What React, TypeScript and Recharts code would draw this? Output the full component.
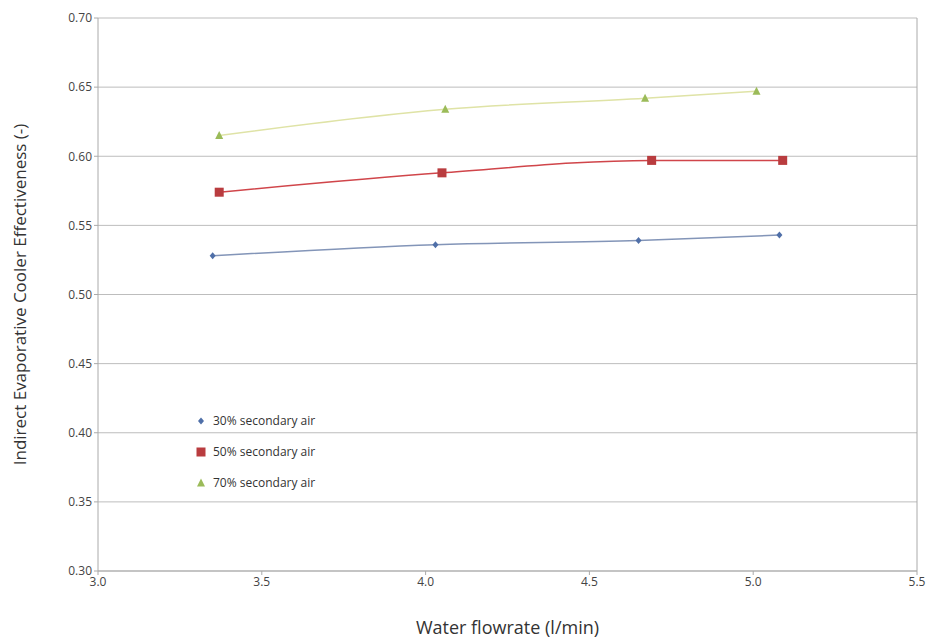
import React from "react"
import {
  LineChart,
  Line,
  XAxis,
  YAxis,
  CartesianGrid,
  ReferenceLine,
} from "recharts"

const flow30 = [3.35, 4.03, 4.65, 5.08]
const eff30 = [0.528, 0.536, 0.539, 0.543]
const flow50 = [3.37, 4.05, 4.69, 5.09]
const eff50 = [0.574, 0.588, 0.597, 0.597]
const flow70 = [3.37, 4.06, 4.67, 5.01]
const eff70 = [0.615, 0.634, 0.642, 0.647]

const xTicks = [3.0, 3.5, 4.0, 4.5, 5.0, 5.5]
const yTicks = [0.3, 0.35, 0.4, 0.45, 0.5, 0.55, 0.6, 0.65, 0.7]

const zip = (xs: number[], ys: number[]) => xs.map((x, i) => ({ x, y: ys[i] }))

const series = [
  { name: "30% secondary air", data: zip(flow30, eff30), line: "#8395b8", mark: "#4f6fa8", shape: "diamond" },
  { name: "50% secondary air", data: zip(flow50, eff50), line: "#d0454a", mark: "#b93c3f", shape: "square" },
  { name: "70% secondary air", data: zip(flow70, eff70), line: "#dfe3a6", mark: "#9bbb59", shape: "triangle" },
]

const font = "'Open Sans', 'Liberation Sans', sans-serif"

function Marker({ cx, cy, shape, color }: any) {
  if (cx == null || cy == null) return null
  if (shape === "square") {
    return <rect x={cx - 4.5} y={cy - 4.5} width={9} height={9} fill={color} />
  }
  if (shape === "triangle") {
    return <polygon points={`${cx},${cy - 4.5} ${cx + 4},${cy + 3.5} ${cx - 4},${cy + 3.5}`} fill={color} />
  }
  return <polygon points={`${cx},${cy - 3.5} ${cx + 3},${cy} ${cx},${cy + 3.5} ${cx - 3},${cy}`} fill={color} />
}

function LegendBox() {
  return (
    <div style={{ position: "absolute", left: 195, top: 405, fontFamily: font, fontSize: 12, color: "#333" }}>
      {series.map((s) => (
        <div key={s.name} style={{ display: "flex", alignItems: "center", height: 31 }}>
          <svg width={12} height={12} style={{ marginRight: 6 }}>
            <Marker cx={6} cy={6} shape={s.shape} color={s.mark} />
          </svg>
          {s.name}
        </div>
      ))}
    </div>
  )
}

export default function App() {
  return (
    <div style={{ position: "absolute", left: 0, top: 0, width: 934, height: 641, background: "#fff" }}>
      <LineChart width={934} height={641} margin={{ top: 18, right: 17, left: 0, bottom: 0 }}>
        <CartesianGrid vertical={false} stroke="#bdbdbd" />
        <XAxis
          type="number"
          dataKey="x"
          domain={[3, 5.5]}
          ticks={xTicks}
          tickFormatter={(v) => v.toFixed(1)}
          height={70}
          stroke="#aaa"
          tick={{ fontSize: 12, fill: "#444", fontFamily: font }}
          tickSize={4}
          label={{ value: "Water flowrate (l/min)", position: "insideBottom", offset: 7, fontSize: 18, fill: "#333", fontFamily: font }}
        />
        <YAxis
          type="number"
          dataKey="y"
          domain={[0.3, 0.7]}
          ticks={yTicks}
          tickFormatter={(v) => v.toFixed(2)}
          width={98}
          stroke="#aaa"
          tick={{ fontSize: 12, fill: "#444", fontFamily: font }}
          tickSize={4}
          label={{
            value: "Indirect Evaporative Cooler Effectiveness (-)",
            angle: -90,
            position: "insideLeft",
            offset: 20,
            style: { textAnchor: "middle", fontSize: 17, fill: "#333", fontFamily: font },
          }}
        />
        <ReferenceLine x={5.5} stroke="#aaa" />
        {series.map((s) => (
          <Line
            key={s.name}
            name={s.name}
            data={s.data}
            dataKey="y"
            type="monotone"
            stroke={s.line}
            strokeWidth={1.5}
            dot={(p: any) => <Marker key={p.index} cx={p.cx} cy={p.cy} shape={s.shape} color={s.mark} />}
            activeDot={false}
            isAnimationActive={false}
          />
        ))}
      </LineChart>
      <LegendBox />
    </div>
  )
}
